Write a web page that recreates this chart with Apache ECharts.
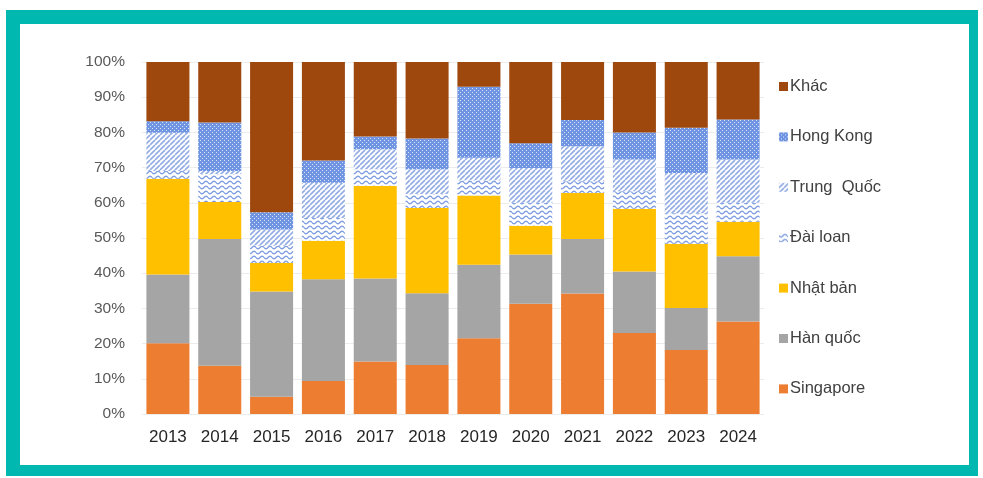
<!DOCTYPE html>
<html>
<head>
<meta charset="utf-8">
<script src="https://cdn.jsdelivr.net/npm/echarts@6/dist/echarts.min.js"></script>
<style>
  html, body { margin: 0; padding: 0; background: #fff; }
  #chart { width: 983px; height: 478px; }
</style>
</head>
<body>
<div id="chart"></div>
<script>
// Years on the category axis
const years = ['2013', '2014', '2015', '2016', '2017', '2018', '2019', '2020', '2021', '2022', '2023', '2024'];

// Share of each partner per year (%), bottom of the stack first
const singapore = [20.1, 13.7, 4.9, 9.4, 14.9, 13.9, 21.5, 31.3, 34.2, 23.0, 18.2, 26.3];
const hanQuoc   = [19.5, 36.0, 29.9, 28.9, 23.6, 20.4, 20.9, 14.0, 15.5, 17.5, 11.9, 18.5];
const nhatBan   = [27.2, 10.5, 8.1, 10.9, 26.3, 24.2, 19.7, 8.2, 13.1, 17.8, 18.3, 9.8];
const daiLoan   = [2.2, 8.0, 4.9, 6.5, 4.7, 4.0, 4.2, 6.5, 3.3, 5.0, 8.6, 5.4];
const trungQuoc = [10.9, 0.8, 4.6, 10.0, 5.7, 7.0, 6.5, 9.9, 10.0, 9.0, 11.5, 12.3];
const hongKong  = [3.3, 13.8, 4.9, 6.3, 3.6, 8.8, 20.2, 7.0, 7.4, 7.7, 12.8, 11.4];
const khac      = [16.8, 17.2, 42.7, 28.0, 21.2, 21.7, 7.0, 23.1, 16.5, 20.0, 18.7, 16.3];

// Y axis tick values (%)
const yTicks = [0, 10, 20, 30, 40, 50, 60, 70, 80, 90, 100];

// --- fill patterns -------------------------------------------------------
function makeTile(w, h, draw) {
  const c = document.createElement('canvas');
  c.width = w; c.height = h;
  draw(c.getContext('2d'));
  return c;
}
// blue dotted grid
const dotTile = makeTile(4, 4, g => {
  g.fillStyle = '#6f95e2'; g.fillRect(0, 0, 4, 4);
  g.fillStyle = 'rgba(255,255,255,0.75)';
  g.fillRect(0, 0, 1, 1);
  g.fillRect(2, 2, 1, 1);
});
// upward diagonals
const diagTile = makeTile(5, 5, g => {
  g.fillStyle = '#ffffff'; g.fillRect(0, 0, 5, 5);
  g.strokeStyle = '#93ace4'; g.lineWidth = 1.6;
  for (let k = -5; k <= 10; k += 5) {
    g.beginPath(); g.moveTo(k, 5); g.lineTo(k + 5, 0); g.stroke();
  }
});
// horizontal waves
const waveTile = makeTile(8, 5, g => {
  g.fillStyle = '#ffffff'; g.fillRect(0, 0, 8, 5);
  g.strokeStyle = '#7f9de0'; g.lineWidth = 1.4;
  g.beginPath();
  for (let x = 0; x <= 8; x += 0.5) {
    const y = 2.5 + 1.3 * Math.sin(x / 8 * Math.PI * 2);
    if (x === 0) g.moveTo(x, y); else g.lineTo(x, y);
  }
  g.stroke();
});
const pattern = img => ({ image: img, repeat: 'repeat' });

const seriesDefs = [
  { name: 'Singapore',   data: singapore, color: '#ED7D31' },
  { name: 'Hàn quốc',    data: hanQuoc,   color: '#A5A5A5' },
  { name: 'Nhật bản',    data: nhatBan,   color: '#FFC000' },
  { name: 'Đài loan',    data: daiLoan,   color: pattern(waveTile) },
  { name: 'Trung  Quốc', data: trungQuoc, color: pattern(diagTile) },
  { name: 'Hong Kong',   data: hongKong,  color: pattern(dotTile) },
  { name: 'Khác',        data: khac,      color: '#9E480E' }
];

const chart = echarts.init(document.getElementById('chart'), null, { renderer: 'canvas' });

chart.setOption({
  animation: false,
  backgroundColor: '#fff',
  textStyle: { fontFamily: 'Liberation Sans, Arial, sans-serif' },
  graphic: [
    {
      type: 'rect', z: -10, silent: true,
      shape: { x: 6, y: 10, width: 972, height: 466 },
      style: { fill: '#00b8b0' }
    },
    {
      type: 'rect', z: -9, silent: true,
      shape: { x: 20, y: 24, width: 949, height: 441 },
      style: { fill: '#ffffff' }
    }
  ],
  grid: { left: 142, right: 219, top: 62, bottom: 64 },
  legend: {
    orient: 'vertical',
    left: 774,
    top: 73,
    itemWidth: 9,
    itemHeight: 9,
    itemGap: 33.4,
    icon: 'rect',
    data: ['Khác', 'Hong Kong', 'Trung  Quốc', 'Đài loan', 'Nhật bản', 'Hàn quốc', 'Singapore'],
    textStyle: { fontSize: 16.5, color: '#404040', lineHeight: 16, padding: [0, 0, 0, -3] }
  },
  xAxis: {
    type: 'category',
    data: years,
    axisLine: { show: false },
    axisTick: { show: false },
    axisLabel: { fontSize: 17, color: '#262626', margin: 15 }
  },
  yAxis: {
    type: 'value',
    min: 0,
    max: 100,
    interval: 10,
    axisLine: { show: false },
    axisTick: { show: false },
    splitLine: { lineStyle: { color: '#ececec', width: 1 } },
    axisLabel: {
      fontSize: 15.5,
      color: '#595959',
      margin: 17,
      formatter: v => (yTicks.includes(v) ? v + '%' : '')
    }
  },
  series: seriesDefs.map(s => ({
    name: s.name,
    type: 'bar',
    stack: 'share',
    data: s.data,
    barCategoryGap: '17%',
    itemStyle: { color: s.color },
    emphasis: { disabled: true }
  }))
});
</script>
</body>
</html>
